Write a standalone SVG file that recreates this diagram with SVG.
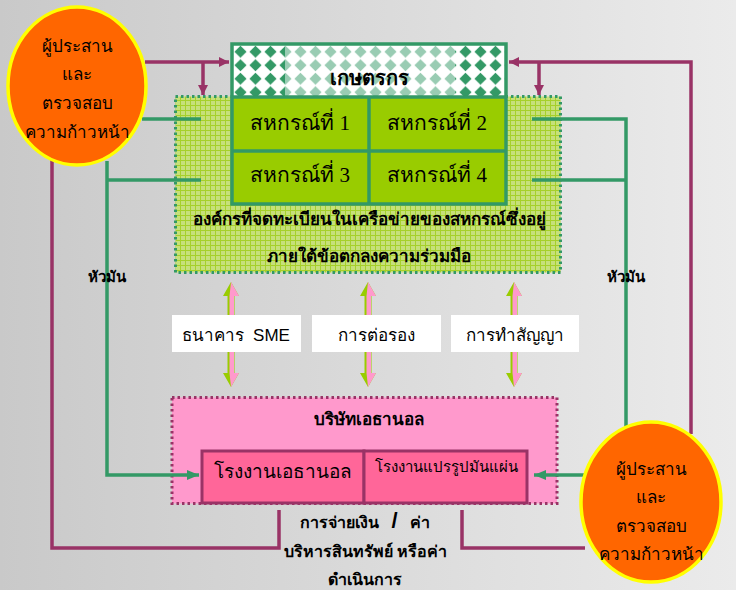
<svg xmlns="http://www.w3.org/2000/svg" width="736" height="590" viewBox="0 0 736 590">
<defs>
<linearGradient id="bg" x1="0" y1="0" x2="1" y2="0">
<stop offset="0" stop-color="#c9c9c9"/>
<stop offset="1" stop-color="#ebebeb"/>
</linearGradient>
<pattern id="grid" patternUnits="userSpaceOnUse" width="5" height="5">
<rect width="5" height="5" fill="#c6e07a"/>
<path d="M0 0.5H5M0.5 0V5" stroke="#a6d02a" stroke-width="1"/>
</pattern>
<pattern id="diam" patternUnits="userSpaceOnUse" x="233" y="45" width="15" height="13.5">
<rect width="15" height="13.5" fill="#ffffff"/>
<polygon points="7.5,0.8 13.6,6.75 7.5,12.7 1.4,6.75" fill="#339966"/>
</pattern>
<marker id="ap" markerUnits="userSpaceOnUse" markerWidth="12" markerHeight="12" refX="10" refY="5" orient="auto">
<path d="M0,0 L10,5 L0,10 Z" fill="#993366"/>
</marker>
<marker id="ag" markerUnits="userSpaceOnUse" markerWidth="14" markerHeight="12" refX="12" refY="5" orient="auto">
<path d="M0,0 L12,5 L0,10 Z" fill="#339966"/>
</marker>
<g id="dbl">
<polygon points="0,0 8,14 3.5,14 3.5,91 8,91 0,105 -8,91 -3.5,91 -3.5,14 -8,14" fill="#99cc00"/>
<polygon points="0,0 8,14 3,14 3,91 8,91 0,105 -1.5,91 -1.5,14" fill="#ff99cc"/>
</g>
</defs>
<style>
.th{font-family:'Liberation Serif','Noto Sans',serif;fill:#000}
.b{font-weight:bold}
.ell{fill:#ff6600;stroke:#ffff00;stroke-width:3.5}
.pl{fill:none;stroke:#993366;stroke-width:3.5}
.gl{fill:none;stroke:#339966;stroke-width:3.5}
.lbl{fill:#ffffff}
.ls{font-family:'Liberation Sans','Noto Sans',sans-serif;fill:#000}
</style>
<rect width="736" height="590" fill="url(#bg)"/>

<g id="network">
<rect x="175.5" y="96.5" width="385" height="176" fill="url(#grid)" stroke="#339966" stroke-width="3" stroke-dasharray="2.5,3"/>
<text class="th b" x="369" y="225" font-size="17" text-anchor="middle">องค์กรที่จดทะเบียนในเครือข่ายของสหกรณ์ซึ่งอยู่</text>
<text class="th b" x="369" y="262" font-size="17" text-anchor="middle">ภายใต้ข้อตกลงความร่วมมือ</text>
</g>

<g id="company">
<rect x="172" y="397.5" width="385" height="106" fill="#ff99cc" stroke="#993366" stroke-width="3" stroke-dasharray="2.5,3"/>
<text class="th b" x="369" y="425" font-size="17" text-anchor="middle">บริษัทเอธานอล</text>
</g>

<g id="connectors">
<path class="pl" d="M145,62 H229" marker-end="url(#ap)"/>
<path class="pl" d="M203,62 V95" marker-end="url(#ap)"/>
<path class="pl" d="M52,158 V548 H279 V510"/>
<path class="pl" d="M691,434 V62 H509" marker-end="url(#ap)"/>
<path class="pl" d="M539,62 V95" marker-end="url(#ap)"/>
<path class="pl" d="M585,548 H462 V510"/>
<path class="gl" d="M142,119 H201"/>
<path class="gl" d="M107,161 V475 H199" marker-end="url(#ag)"/>
<path class="gl" d="M107,180 H201"/>
<path class="gl" d="M532,119 H626 V428"/>
<path class="gl" d="M532,180 H626"/>
<path class="gl" d="M584,475 H534" marker-end="url(#ag)"/>
<use href="#dbl" x="231" y="282"/>
<use href="#dbl" x="368" y="282"/>
<use href="#dbl" x="514" y="282"/>
</g>

<g id="label-sme">
<rect class="lbl" x="172" y="315" width="129" height="37"/>
<text class="ls" x="236" y="341" font-size="17" text-anchor="middle">ธนาคาร<tspan dx="9">SME</tspan></text>
</g>
<g id="label-negotiate">
<rect class="lbl" x="312" y="315" width="129" height="37"/>
<text class="ls" x="376" y="341" font-size="17" text-anchor="middle">การต่อรอง</text>
</g>
<g id="label-contract">
<rect class="lbl" x="451" y="315" width="128" height="37"/>
<text class="ls" x="515" y="341" font-size="17" text-anchor="middle">การทำสัญญา</text>
</g>

<g id="farmers">
<rect x="232.5" y="44.5" width="273" height="53" fill="url(#diam)"/>
<rect x="285" y="45" width="170" height="52" fill="#ffffff" opacity="0.5"/>
<rect x="232.5" y="97" width="273" height="107" fill="#99cc00"/>
<path d="M369,97 V204 M232.5,151 H505.5" stroke="#339966" stroke-width="3.5"/>
<rect x="232" y="44" width="274" height="160" fill="none" stroke="#339966" stroke-width="3.5"/>
<path d="M232,97 H506" stroke="#339966" stroke-width="3.5"/>
<text class="th b" x="369" y="85" font-size="20" text-anchor="middle">เกษตรกร</text>
</g>
<g id="coop1"><text class="th" x="300" y="130" font-size="21" text-anchor="middle">สหกรณ์ที่ 1</text></g>
<g id="coop2"><text class="th" x="437" y="130" font-size="21" text-anchor="middle">สหกรณ์ที่ 2</text></g>
<g id="coop3"><text class="th" x="300" y="182" font-size="21" text-anchor="middle">สหกรณ์ที่ 3</text></g>
<g id="coop4"><text class="th" x="437" y="182" font-size="21" text-anchor="middle">สหกรณ์ที่ 4</text></g>

<g id="ethanol-plant">
<rect x="202" y="451" width="162" height="52" fill="#ff6699" stroke="#993366" stroke-width="3"/>
<text class="th" x="283" y="478" font-size="19" text-anchor="middle">โรงงานเอธานอล</text>
</g>
<g id="chip-plant">
<rect x="364" y="451" width="163" height="52" fill="#ff6699" stroke="#993366" stroke-width="3"/>
<text class="th" x="446" y="472" font-size="15" text-anchor="middle">โรงงานแปรรูปมันแผ่น</text>
</g>

<g id="coordinator-left">
<ellipse class="ell" cx="77" cy="86" rx="69" ry="79"/>
<text class="th" x="77" y="52" font-size="17" text-anchor="middle">ผู้ประสาน</text>
<text class="th" x="77" y="80" font-size="17" text-anchor="middle">และ</text>
<text class="th" x="77" y="109" font-size="17" text-anchor="middle">ตรวจสอบ</text>
<text class="th" x="77" y="138" font-size="17" text-anchor="middle">ความก้าวหน้า</text>
</g>
<g id="coordinator-right">
<ellipse class="ell" cx="651" cy="502" rx="70" ry="80"/>
<text class="th" x="651" y="475" font-size="17" text-anchor="middle">ผู้ประสาน</text>
<text class="th" x="651" y="503" font-size="17" text-anchor="middle">และ</text>
<text class="th" x="651" y="532" font-size="17" text-anchor="middle">ตรวจสอบ</text>
<text class="th" x="651" y="560" font-size="17" text-anchor="middle">ความก้าวหน้า</text>
</g>

<g id="labels">
<text class="th b" x="107" y="282" font-size="15" text-anchor="middle">หัวมัน</text>
<text class="th b" x="626" y="282" font-size="15" text-anchor="middle">หัวมัน</text>
<text class="th b" x="365" y="528" font-size="16" text-anchor="middle">การจ่ายเงิน<tspan dx="12" font-family="'Liberation Sans',sans-serif" font-size="22" font-weight="bold">/</tspan><tspan dx="12">ค่า</tspan></text>
<text class="th b" x="365" y="557" font-size="16" text-anchor="middle">บริหารสินทรัพย์ หรือค่า</text>
<text class="th b" x="365" y="585" font-size="16" text-anchor="middle">ดำเนินการ</text>
</g>
</svg>
